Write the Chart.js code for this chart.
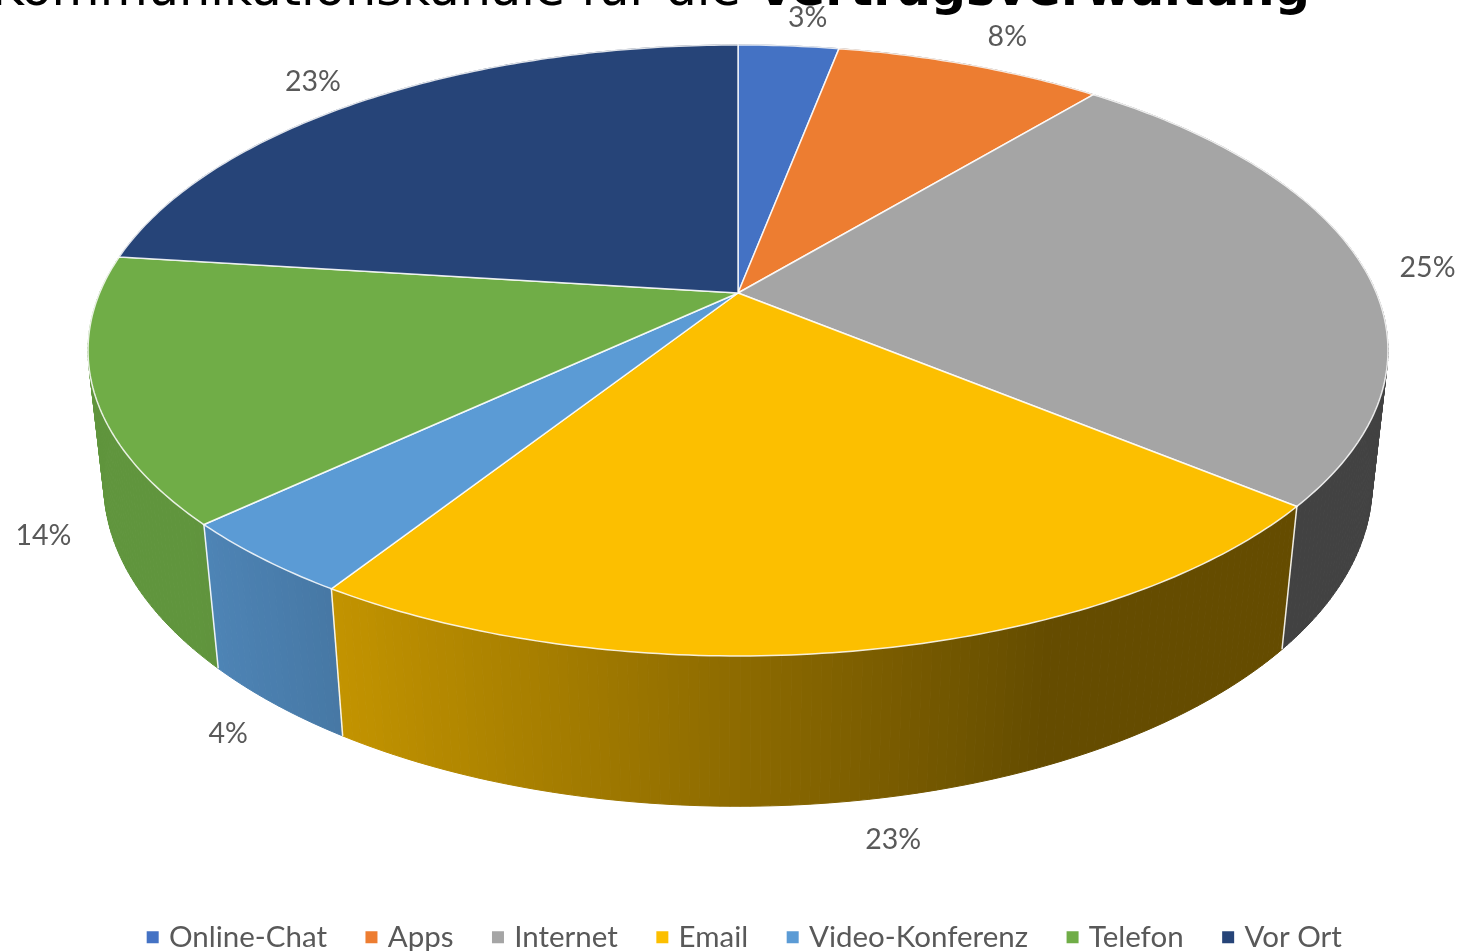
<!DOCTYPE html>
<html>
<head>
<meta charset="utf-8">
<title>Kommunikationskanäle</title>
<script src="https://cdn.jsdelivr.net/npm/chart.js@4/dist/chart.umd.min.js"></script>
<style>
  html, body { margin: 0; padding: 0; background: #fff; overflow: hidden; }
  canvas { display: block; }
</style>
</head>
<body>
<canvas id="chart1" width="1463" height="951"></canvas>
<script>
const categories = ['Online-Chat', 'Apps', 'Internet', 'Email', 'Video-Konferenz', 'Telefon', 'Vor Ort'];
const values = [3, 8, 25, 23, 4, 14, 23];
const sliceColors = ['#4472C4', '#ED7D31', '#A5A5A5', '#FCBF00', '#5B9BD5', '#70AD47', '#264478'];
const titleRegular = 'Kommunikationskanäle für die ';
const titleBold = 'Vertragsverwaltung';

// label placement: which rim it hangs off (0 top, 1 bottom) and the offset from there
const labelRim = [0, 0, 0, 1, 1, 1, 0];
const labelNudge = [[19, -28], [37, -28], [65, 2], [36, 39], [-47, 30], [-66, 9], [-55, -17]];

// perspective camera for the tilted disc
const view = { cx: 738, cy: 293, a: 638.4, b: 294.7, p: 0.188, q: 0.024, c: 134.4 };

function project(u, v, z) {
  const w = 1 - view.p * v + view.q * z;
  return {
    x: view.cx + view.a * u / w,
    y: view.cy + (view.b * v + view.c * z) / w
  };
}

function pointAt(angle, z) {
  return project(Math.cos(angle), Math.sin(angle), z);
}

// side wall darkens from left to right, flat past a certain point
function wallShade(hex, u) {
  const f = Math.max(0.4, Math.min(0.86, 0.42 + 0.4 * (0.35 - u)));
  const n = parseInt(hex.slice(1), 16);
  const r = Math.round((n >> 16 & 255) * f);
  const g = Math.round((n >> 8 & 255) * f);
  const b = Math.round((n & 255) * f);
  return `rgb(${r},${g},${b})`;
}

const pie3d = {
  id: 'pie3d',
  beforeDatasetsDraw(chart) {
    const ctx = chart.ctx;
    const arcs = chart.getDatasetMeta(0).data;
    const step = Math.PI / 240;

    // title runs off the top edge
    ctx.save();
    ctx.fillStyle = '#000';
    ctx.textBaseline = 'alphabetic';
    ctx.textAlign = 'left';
    ctx.font = 'bold 49.3px "DejaVu Sans"';
    const boldWidth = ctx.measureText(titleBold).width;
    ctx.fillText(titleBold, 1310 - boldWidth, 5);
    ctx.font = '49.3px "DejaVu Sans"';
    const regWidth = ctx.measureText(titleRegular).width;
    ctx.fillText(titleRegular, 1310 - boldWidth - regWidth, 5);
    ctx.restore();

    // walls, back to front
    const segments = [];
    arcs.forEach((arc, i) => {
      for (let s = arc.startAngle; s < arc.endAngle; s += step) {
        segments.push({ from: s, to: Math.min(s + step, arc.endAngle), color: sliceColors[i] });
      }
    });
    segments.sort((l, r) => Math.sin(l.from) - Math.sin(r.from));
    segments.forEach(seg => {
      const a = pointAt(seg.from, 0), b = pointAt(seg.to, 0);
      const c = pointAt(seg.to, 1), d = pointAt(seg.from, 1);
      const shade = wallShade(seg.color, Math.cos((seg.from + seg.to) / 2));
      ctx.beginPath();
      ctx.moveTo(a.x, a.y);
      ctx.lineTo(b.x, b.y);
      ctx.lineTo(c.x, c.y);
      ctx.lineTo(d.x, d.y);
      ctx.closePath();
      ctx.fillStyle = shade;
      ctx.strokeStyle = shade;
      ctx.lineWidth = 1;
      ctx.fill();
      ctx.stroke();
    });

    // light edges where slices meet on the wall
    ctx.strokeStyle = 'rgba(255,255,255,0.9)';
    ctx.lineWidth = 1.5;
    arcs.forEach(arc => {
      const top = pointAt(arc.startAngle, 0), bottom = pointAt(arc.startAngle, 1);
      ctx.beginPath();
      ctx.moveTo(top.x, top.y);
      ctx.lineTo(bottom.x, bottom.y);
      ctx.stroke();
    });

    // top face
    arcs.forEach((arc, i) => {
      ctx.beginPath();
      ctx.moveTo(view.cx, view.cy);
      for (let s = arc.startAngle; s < arc.endAngle; s += step) {
        const pt = pointAt(s, 0);
        ctx.lineTo(pt.x, pt.y);
      }
      const end = pointAt(arc.endAngle, 0);
      ctx.lineTo(end.x, end.y);
      ctx.closePath();
      ctx.fillStyle = sliceColors[i];
      ctx.fill();
      ctx.strokeStyle = 'rgba(255,255,255,0.85)';
      ctx.lineWidth = 1.5;
      ctx.stroke();
    });

    // percent labels
    ctx.fillStyle = '#595959';
    ctx.font = '28.5px Lato';
    ctx.textAlign = 'center';
    ctx.textBaseline = 'middle';
    arcs.forEach((arc, i) => {
      const anchor = pointAt((arc.startAngle + arc.endAngle) / 2, labelRim[i]);
      ctx.fillText(values[i] + '%', anchor.x + labelNudge[i][0], anchor.y + labelNudge[i][1]);
    });

    return false;
  }
};

new Chart(document.getElementById('chart1').getContext('2d'), {
  type: 'pie',
  data: {
    labels: categories,
    datasets: [{
      data: values,
      backgroundColor: sliceColors,
      borderWidth: 0
    }]
  },
  options: {
    responsive: false,
    animation: false,
    layout: { padding: { left: 30, bottom: -11 } },
    plugins: {
      title: { display: false },
      tooltip: { enabled: false },
      legend: {
        position: 'bottom',
        labels: {
          usePointStyle: true,
          pointStyle: 'rect',
          boxWidth: 3,
          boxHeight: 12,
          padding: 43,
          color: '#595959',
          font: { family: 'Lato', size: 29.5 }
        }
      }
    }
  },
  plugins: [pie3d]
});
</script>
</body>
</html>
